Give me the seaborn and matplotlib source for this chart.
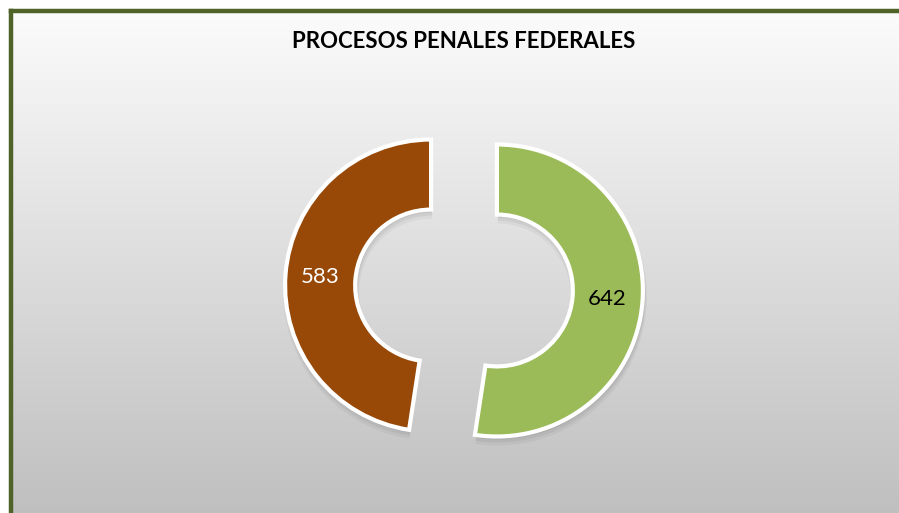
import numpy as np
import matplotlib
matplotlib.use("Agg")
import matplotlib.pyplot as plt
import seaborn as sns

# Data
title = "PROCESOS PENALES FEDERALES"
categories = ["Categoría 1", "Categoría 2"]
values = [642, 583]
colors = ["#9BBB59", "#984807"]
label_colors = ["black", "white"]

sns.set_theme(style="white")
plt.rcParams["font.family"] = ["Lato", "DejaVu Sans"]

W, H = 899, 513
fig = plt.figure(figsize=(W / 100, H / 100), dpi=100)

# background gradient
ax_bg = fig.add_axes([0, 0, 1, 1])
ax_bg.set_xlim(0, W)
ax_bg.set_ylim(0, H)
ax_bg.axis("off")
grad = np.linspace(0, 1, 256).reshape(-1, 1)
top = np.array([0.985, 0.985, 0.985])
bot = np.array([0.75, 0.75, 0.75])
img = top * (1 - grad)[..., None] + bot * grad[..., None]
img = np.repeat(img, 2, axis=1)
ax_bg.add_patch(plt.Rectangle((0, 0), W, H, color="white", zorder=0))
ax_bg.imshow(img, extent=(11, W, 0, H - 11), aspect="auto", zorder=1)
# border (left and top)
ax_bg.plot([11, 11], [0, H - 11], color="#4F6228", lw=3.2, zorder=3, solid_capstyle="projecting")
ax_bg.plot([11, W], [H - 11, H - 11], color="#4F6228", lw=3.2, zorder=3, solid_capstyle="projecting")

ax = fig.add_axes([0, 0, 1, 1])
ax.patch.set_alpha(0)
cx, cy, R = 464, H - 288, 146
offset = 33
total = sum(values)

# soft shadow
for k, a in [(6, 0.04), (4, 0.05), (2, 0.06)]:
    ax.pie(values, colors=["black", "black"], startangle=90, counterclock=False,
           explode=[offset, offset], center=(cx + 1, cy - k), radius=R + k / 2,
           wedgeprops=dict(width=0.48 * R + k, linewidth=0, alpha=a))

wedges, texts, autotexts = ax.pie(
    values, colors=colors, startangle=90, counterclock=False,
    explode=[offset, offset], center=(cx, cy), radius=R,
    autopct=lambda p: f"{p * total / 100:.0f}", pctdistance=0.76,
    wedgeprops=dict(width=0.48 * R, edgecolor="white", linewidth=3),
    textprops=dict(fontsize=16),
)
for t, c in zip(autotexts, label_colors):
    t.set_color(c)

ax.set_xlim(0, W)
ax.set_ylim(0, H)
ax.axis("off")

fig.text(464 / W, 1 - 42 / H, title, ha="center", va="center",
         fontsize=16, fontweight="bold", color="black")

fig.savefig("out.png", dpi=100)
